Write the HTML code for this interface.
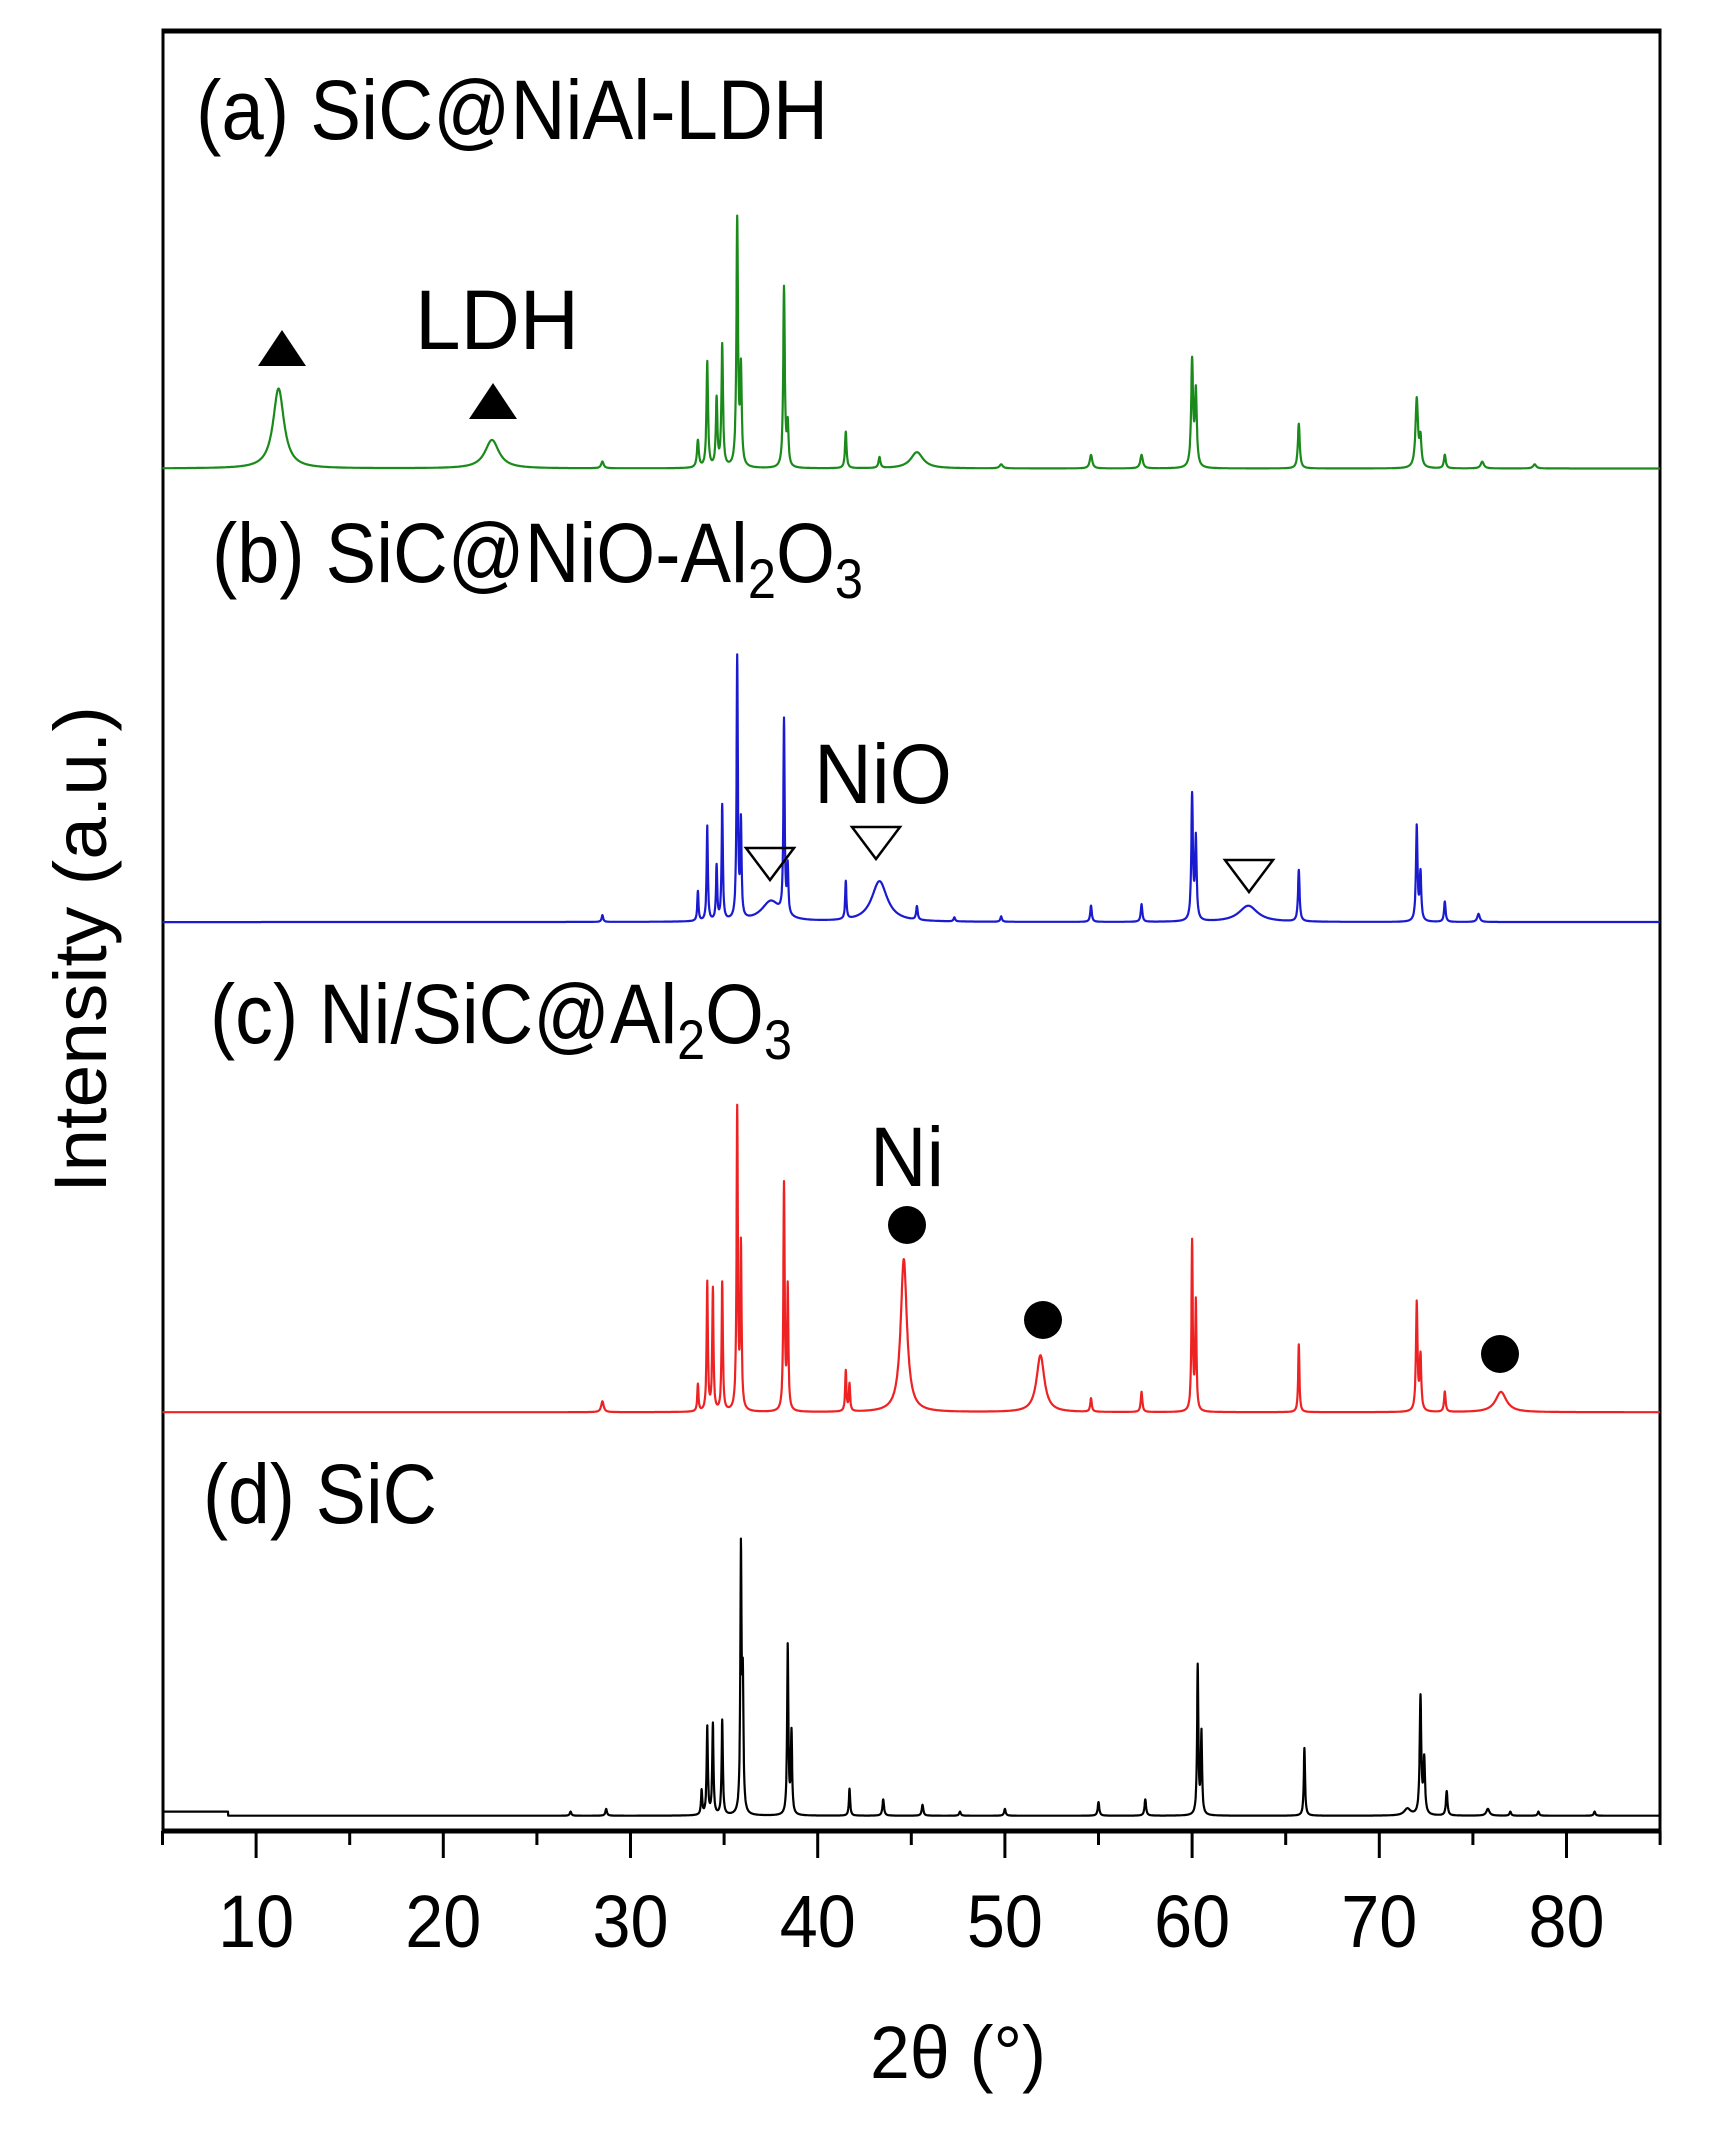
<!DOCTYPE html>
<html><head><meta charset="utf-8"><style>
html,body{margin:0;padding:0;background:#fff;}
svg{display:block;}
text{font-family:"Liberation Sans",Arial,sans-serif;fill:#000;}
</style></head><body>
<svg id="s" width="1728" height="2148" viewBox="0 0 1728 2148" xmlns="http://www.w3.org/2000/svg">
<rect x="163" y="30" width="1497" height="1801" fill="none" stroke="#000" stroke-width="3"/>
<line x1="163" y1="31" x2="1660" y2="31" stroke="#000" stroke-width="5"/>
<line x1="163" y1="1831" x2="1660" y2="1831" stroke="#000" stroke-width="5"/>
<g id="ticks" stroke="#000" stroke-width="3"></g>
<g id="paths" fill="none" stroke-width="2.2" stroke-linejoin="round"></g>
<g id="tl" font-size="74" text-anchor="middle"></g>
<text x="870" y="2078" font-size="74" textLength="176" lengthAdjust="spacingAndGlyphs">2θ (°)</text>
<text transform="translate(106,1193) rotate(-90)" font-size="74" textLength="487" lengthAdjust="spacingAndGlyphs">Intensity (a.u.)</text>
<g font-size="84">
<text x="196" y="139" textLength="632" lengthAdjust="spacingAndGlyphs">(a) SiC@NiAl-LDH</text>
<text x="212" y="582" textLength="651" lengthAdjust="spacingAndGlyphs">(b) SiC@NiO-Al<tspan font-size="56" dy="16">2</tspan><tspan dy="-16">O</tspan><tspan font-size="56" dy="16">3</tspan></text>
<text x="210" y="1043" textLength="582" lengthAdjust="spacingAndGlyphs">(c) Ni/SiC@Al<tspan font-size="56" dy="16">2</tspan><tspan dy="-16">O</tspan><tspan font-size="56" dy="16">3</tspan></text>
<text x="203" y="1523" textLength="234" lengthAdjust="spacingAndGlyphs">(d) SiC</text>
<text x="415" y="349" textLength="164" lengthAdjust="spacingAndGlyphs">LDH</text>
<text x="814" y="803" textLength="138" lengthAdjust="spacingAndGlyphs">NiO</text>
<text x="870" y="1186" textLength="74" lengthAdjust="spacingAndGlyphs">Ni</text>
</g>
<polygon points="258,366 306,366 282,330" fill="#000"/>
<polygon points="469,419 517,419 493,383" fill="#000"/>
<g fill="none" stroke="#000" stroke-width="2.5">
<polygon points="746,848 794,848 770,880"/>
<polygon points="852,827 900,827 876,859"/>
<polygon points="1225,860 1273,860 1249,892"/>
</g>
<g fill="#000">
<circle cx="907" cy="1225" r="19"/>
<circle cx="1043" cy="1320" r="19"/>
<circle cx="1500" cy="1354" r="19"/>
</g>
</svg>
<script>
var S=1.354, NS="http://www.w3.org/2000/svg";
function X(v){return 162.5+(v-5)*18.72;}
var tk=document.getElementById('ticks'), tl=document.getElementById('tl');
for(var v=5;v<=85;v+=5){
 var l=document.createElementNS(NS,'line');
 l.setAttribute('x1',X(v));l.setAttribute('x2',X(v));
 l.setAttribute('y1',1831);l.setAttribute('y2',v%10==0?1858:1845);tk.appendChild(l);
 if(v%10==0&&v>=10&&v<=80){var t=document.createElementNS(NS,'text');t.setAttribute('x',X(v));t.setAttribute('y',1947);t.setAttribute('textLength',76);t.setAttribute('lengthAdjust','spacingAndGlyphs');t.textContent=v;tl.appendChild(t);}
}
var series=[
 {c:'#1a8a1a',b:346,pk:[[11.2,59,0.35],[22.6,21,0.45],[28.5,5,0.08],[33.6,20,0.06],[34.1,78,0.05],[34.6,50,0.05],[34.9,90,0.05],[35.7,182,0.05],[35.9,70,0.05],[38.2,133,0.05],[38.4,30,0.05],[41.5,27,0.05],[43.3,8,0.06],[45.3,12,0.4],[49.8,3,0.1],[54.6,10,0.08],[57.3,10,0.08],[60.0,78,0.06],[60.2,55,0.06],[65.7,33,0.06],[72.0,51,0.08],[72.2,20,0.06],[73.5,10,0.06],[75.5,5,0.1],[78.3,3,0.1]],step:0},
 {c:'#1a1ad0',b:681,pk:[[28.5,5,0.05],[33.6,22,0.04],[34.1,70,0.04],[34.6,40,0.04],[34.9,85,0.04],[35.7,193,0.04],[35.9,70,0.04],[37.5,15,0.6],[38.2,143,0.04],[38.4,35,0.04],[41.5,28,0.04],[43.3,30,0.5],[45.3,10,0.05],[47.3,3,0.05],[49.8,4,0.05],[54.6,12,0.05],[57.3,13,0.05],[60.0,92,0.05],[60.2,60,0.05],[63.0,12,0.6],[65.7,38,0.05],[72.0,70,0.05],[72.2,35,0.05],[73.5,15,0.05],[75.3,6,0.08]],step:0},
 {c:'#ee2222',b:1043,pk:[[28.5,8,0.08],[33.6,20,0.04],[34.1,95,0.04],[34.4,90,0.04],[34.9,95,0.04],[35.7,222,0.04],[35.9,120,0.04],[38.2,167,0.04],[38.4,90,0.04],[41.5,30,0.04],[41.7,20,0.04],[44.6,113,0.2],[51.9,42,0.25],[54.6,10,0.05],[57.3,15,0.05],[60.0,125,0.04],[60.2,80,0.04],[65.7,50,0.04],[72.0,80,0.05],[72.2,40,0.05],[73.5,15,0.05],[76.5,15,0.35]],step:0},
 {c:'#000',b:1341,pk:[[26.8,3,0.05],[28.7,5,0.05],[33.8,18,0.04],[34.1,65,0.04],[34.4,67,0.04],[34.9,70,0.04],[35.9,192,0.04],[36.0,90,0.04],[38.4,125,0.04],[38.6,60,0.04],[41.7,20,0.04],[43.5,12,0.05],[45.6,8,0.05],[47.6,3,0.05],[50.0,5,0.05],[55.0,10,0.05],[57.5,12,0.05],[60.3,110,0.04],[60.5,60,0.04],[66.0,50,0.04],[72.2,87,0.05],[72.4,40,0.05],[71.5,5,0.2],[73.6,18,0.05],[75.8,5,0.1],[77.0,3,0.05],[78.5,3,0.05],[81.5,3,0.05]],step:1}
];
var pg=document.getElementById('paths');
series.forEach(function(s){
 var d='';
 for(var v=5;v<=85;v+=0.01){
  var h=0;s.pk.forEach(function(p){var u=(v-p[0])/p[2];h+=p[1]/(1+u*u);});
  if(s.step&&v<8.5)h+=3;
  var y=(s.b-h)*S;
  d+=(d?'L':'M')+X(v).toFixed(1)+' '+y.toFixed(1);
 }
 var p=document.createElementNS(NS,'path');p.setAttribute('d',d);p.setAttribute('stroke',s.c);pg.appendChild(p);
});
</script>
</body></html>
